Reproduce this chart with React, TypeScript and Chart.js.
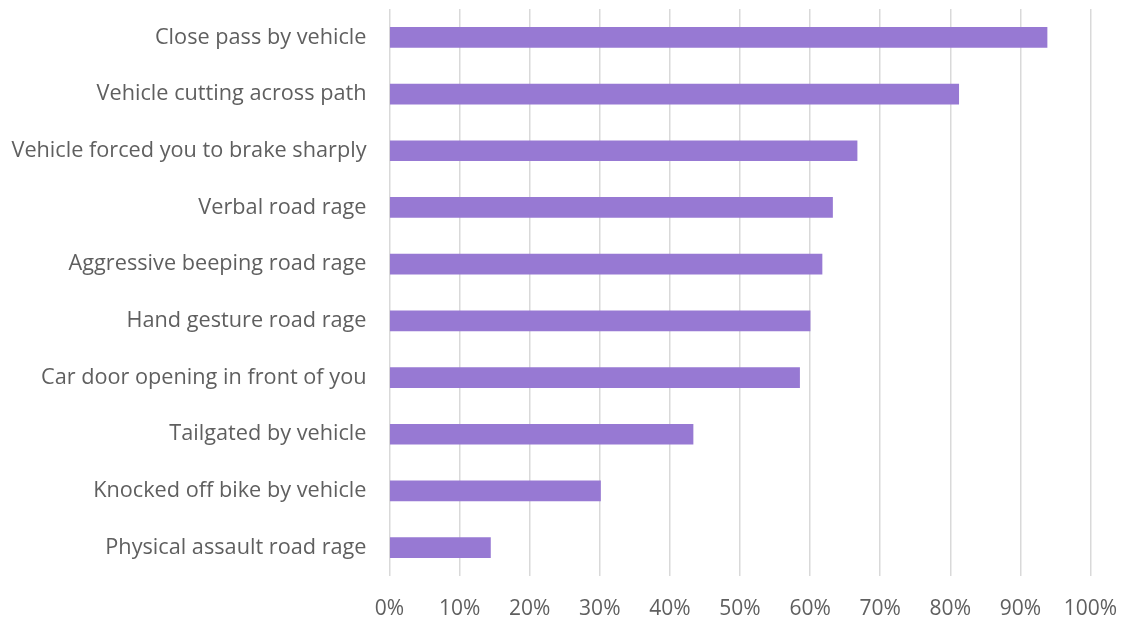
import React, { useEffect, useRef } from "react";
import { Chart, registerables } from "chart.js";

Chart.register(...registerables);

const categories = [
  "Close pass by vehicle",
  "Vehicle cutting across path",
  "Vehicle forced you to brake sharply",
  "Verbal road rage",
  "Aggressive beeping road rage",
  "Hand gesture road rage",
  "Car door opening in front of you",
  "Tailgated by vehicle",
  "Knocked off bike by vehicle",
  "Physical assault road rage",
];

const values = [93.8, 81.2, 66.7, 63.2, 61.7, 60.0, 58.5, 43.3, 30.1, 14.4];

const xMin = 0;
const xMax = 100;
const xStep = 10;

export default function App() {
  const ref = useRef<HTMLCanvasElement | null>(null);

  useEffect(() => {
    document.body.style.margin = "0";
    if (!ref.current) return;
    const chart = new Chart(ref.current, {
      type: "bar",
      data: {
        labels: categories,
        datasets: [
          {
            data: values,
            backgroundColor: "#9779D3",
            borderWidth: 0,
            barThickness: 20,
          },
        ],
      },
      options: {
        indexAxis: "y",
        animation: false,
        responsive: false,
        maintainAspectRatio: false,
        layout: { padding: { top: 9, right: 32.5, left: 0, bottom: 0 } },
        plugins: { legend: { display: false }, tooltip: { enabled: false } },
        scales: {
          x: {
            min: xMin,
            max: xMax,
            ticks: {
              stepSize: xStep,
              padding: 20,
              color: "#5f5f5f",
              font: { family: "'Open Sans', sans-serif", size: 21 },
              callback: (v: any) => `${v}%`,
            },
            grid: { color: "#d9d9d9", lineWidth: 1.5, drawTicks: false },
            border: { display: false },
            afterFit: (s: any) => {
              s.height = 45;
              s.paddingLeft = 0;
              s.paddingRight = 0;
            },
          },
          y: {
            ticks: {
              padding: 23,
              color: "#5f5f5f",
              font: { family: "'Open Sans', sans-serif", size: 21.7 },
            },
            grid: { display: false, drawTicks: false },
            border: { display: false },
            afterFit: (s: any) => {
              s.width = 389.5;
              s.paddingTop = 0;
              s.paddingBottom = 0;
            },
          },
        },
      },
    });
    return () => chart.destroy();
  }, []);

  return (
    <div style={{ width: 1123, height: 621 }}>
      <canvas ref={ref} width={1123} height={621} style={{ display: "block" }} />
    </div>
  );
}
